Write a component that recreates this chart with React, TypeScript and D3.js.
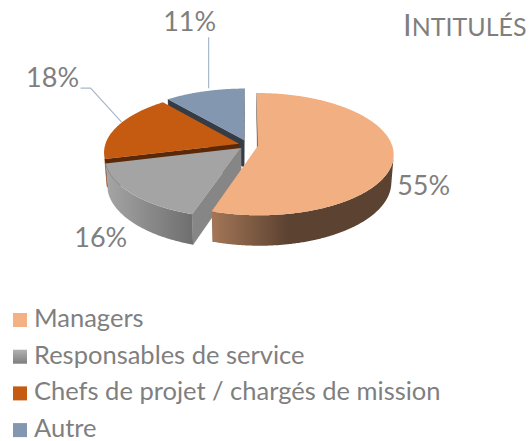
import React from 'react';
import * as d3 from 'd3';

const categories = ['Managers', 'Responsables de service', 'Chefs de projet / chargés de mission', 'Autre'];
const values = [55, 16, 18, 11];
const valueLabels = ['55%', '16%', '18%', '11%'];
const titleCap = 'I';
const titleRest = 'NTITULÉS';

const topColors = ['#F2AF81', '#A4A4A4', '#C55A11', '#8497B0'];
const legendColors = ['#F4B183', 'url(#legGray)', '#C55A11', '#8497B0'];
const radialShade = [0.4, 0.82, 0.46, 0.4];
const explode = [0.075, 0.07, 0.07, 0.09];
// label offsets (px) from the projected rim point at each slice's mid-angle
const labelOffsets: [number, number][] = [[30, 40], [-31, 53], [-65, -39], [-15, -60]];

const W = 531, H = 441;
const cx = 248, cy = 145;
const alpha = (26.5 * Math.PI) / 180;
const D = 6.5;
const f = 134 * D;
const h = 0.232;
const lightAngle = (260 * Math.PI) / 180;
const amb = 0.38, diff = 0.63;

function project(X: number, Y: number, Z: number): [number, number, number] {
  const yp = Y * Math.cos(alpha) + Z * Math.sin(alpha);
  const zp = Z * Math.cos(alpha) - Y * Math.sin(alpha) + D;
  return [cx + (f * X) / zp, cy - (f * yp) / zp, zp];
}

function shade(c: string, k: number) {
  const r = d3.rgb(c);
  return d3.rgb(r.r * k, r.g * k, r.b * k).formatHex();
}

const line = d3.line<[number, number, number]>().x(p => p[0]).y(p => p[1]);

export default function App() {
  const arcs = d3.pie<number>().sort(null).startAngle(0).endAngle(2 * Math.PI)(values);
  const walls: { d: string; fill: string; depth: number }[] = [];
  const tops: { d: string; fill: string }[] = [];
  const grads: { id: string; x1: number; x2: number; stops: { o: number; c: string }[] }[] = [];
  const labels: { x: number; y: number; t: string }[] = [];
  const leaders: string[] = [];

  arcs.forEach((a, i) => {
    const mid = (a.startAngle + a.endAngle) / 2;
    const ox = explode[i] * Math.sin(mid), oz = explode[i] * Math.cos(mid);
    const pt = (th: number, r: number, Y: number) => project(ox + r * Math.sin(th), Y, oz + r * Math.cos(th));
    const n = Math.max(2, Math.ceil((a.endAngle - a.startAngle) / (Math.PI / 360)));
    const ths = d3.range(n + 1).map(k => a.startAngle + ((a.endAngle - a.startAngle) * k) / n);

    tops.push({ d: line([pt(0, 0, 0), ...ths.map(t => pt(t, 1, 0))]) + 'Z', fill: topColors[i] });

    const radial: [number, [number, number]][] = [
      [a.startAngle, [-Math.cos(a.startAngle), Math.sin(a.startAngle)]],
      [a.endAngle, [Math.cos(a.endAngle), -Math.sin(a.endAngle)]],
    ];
    radial.forEach(([th, nrm]) => {
      const vis = nrm[0] * -ox + nrm[1] * (-D * Math.cos(alpha) - oz);
      if (vis > 0) {
        const q = [pt(0, 0, 0), pt(th, 1, 0), pt(th, 1, -h), pt(0, 0, -h)];
        walls.push({ d: line(q) + 'Z', fill: shade(topColors[i], radialShade[i]), depth: d3.mean(q, p => p[2])! });
      }
    });

    const visTh = (th: number) => -ox * Math.sin(th) - oz * Math.cos(th) - 1 - D * Math.cos(alpha) * Math.cos(th) > 0;
    const runs: number[][] = [];
    let cur: number[] = [];
    ths.forEach(t => {
      if (visTh(t)) cur.push(t);
      else if (cur.length) { runs.push(cur); cur = []; }
    });
    if (cur.length) runs.push(cur);
    runs.forEach((run, ri) => {
      if (run.length < 2) return;
      const topE = run.map(t => pt(t, 1, 0));
      const botE = run.map(t => pt(t, 1, -h)).reverse();
      const id = `wall${i}_${ri}`;
      const xs = topE.map(p => p[0]);
      const x1 = d3.min(xs)!, x2 = d3.max(xs)!;
      const stops = run
        .filter((_, k) => k % 6 === 0 || k === run.length - 1)
        .map(t => {
          const p = pt(t, 1, 0);
          const k = amb + diff * Math.max(0, Math.cos(t - lightAngle));
          return { o: (p[0] - x1) / (x2 - x1 || 1), c: shade(topColors[i], k) };
        })
        .sort((u, v) => u.o - v.o);
      grads.push({ id, x1, x2, stops });
      walls.push({ d: line([...topE, ...botE]) + 'Z', fill: `url(#${id})`, depth: d3.mean(topE, p => p[2])! });
    });

    const rim = pt(mid, 1, 0);
    labels.push({ x: rim[0] + labelOffsets[i][0], y: rim[1] + labelOffsets[i][1], t: valueLabels[i] });
    if (i === 2) {
      const lx = rim[0] + labelOffsets[i][0];
      const ly = rim[1] + labelOffsets[i][1];
      leaders.push(`M${lx + 28},${ly + 1}L${lx + 38},${ly + 1}L${rim[0] + 4},${rim[1] - 4}`);
    }
    if (i === 3) {
      const ly = rim[1] + labelOffsets[i][1];
      leaders.push(`M${rim[0] + 4},${ly + 6}L${rim[0] + 4},${rim[1] - 3}`);
    }
  });

  walls.sort((u, v) => v.depth - u.depth);

  const font = 'Lato, "Open Sans", sans-serif';
  const textColor = '#7F7F7F';
  const legendY0 = 327, legendStep = 36.7;

  return (
    <svg width={W} height={H} style={{ position: 'absolute', left: 0, top: 0, background: '#fff' }}>
      <defs>
        {grads.map(g => (
          <linearGradient key={g.id} id={g.id} gradientUnits="userSpaceOnUse" x1={g.x1} x2={g.x2} y1={0} y2={0}>
            {g.stops.map((s, k) => <stop key={k} offset={s.o} stopColor={s.c} />)}
          </linearGradient>
        ))}
        <linearGradient id="legGray" x1="0" x2="0" y1="0" y2="1">
          <stop offset="0" stopColor="#B2B2B2" />
          <stop offset="1" stopColor="#7E7E7E" />
        </linearGradient>
      </defs>
      {walls.map((w, k) => <path key={'w' + k} d={w.d} fill={w.fill} stroke={w.fill.startsWith('url') ? 'none' : w.fill} strokeWidth={0.3} />)}
      {tops.map((t, k) => <path key={'t' + k} d={t.d} fill={t.fill} />)}
      {leaders.map((d, k) => <path key={'l' + k} d={d} fill="none" stroke="#A9B7CB" strokeWidth={1.2} />)}
      {labels.map((l, k) => (
        <text key={'lb' + k} x={l.x} y={l.y} textAnchor="middle" fontFamily={font} fontSize={27} fill={textColor}>{l.t}</text>
      ))}
      <text x={403} y={36} fontFamily={font} fill={textColor}>
        <tspan fontSize={31}>{titleCap}</tspan>
        <tspan fontSize={25}>{titleRest}</tspan>
      </text>
      {categories.map((c, k) => (
        <g key={'lg' + k} transform={`translate(0,${legendY0 + k * legendStep})`}>
          <rect x={13} y={-14} width={14} height={14} fill={legendColors[k]} />
          <text x={34} y={0} fontFamily={font} fontSize={25.5} fill={textColor}>{c}</text>
        </g>
      ))}
    </svg>
  );
}
